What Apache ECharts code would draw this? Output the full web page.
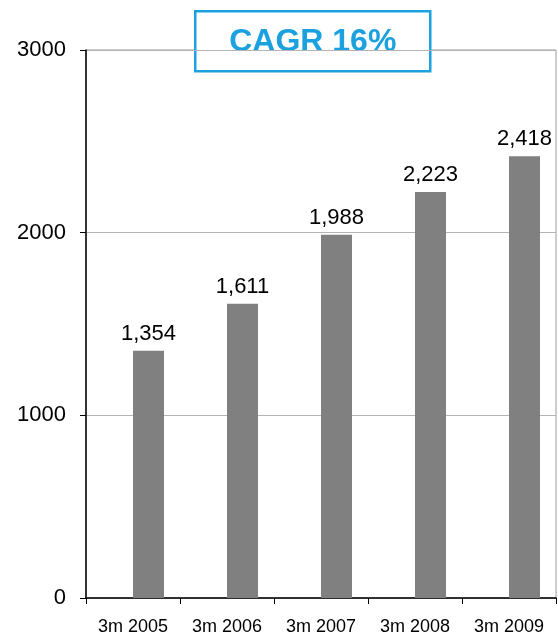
<!DOCTYPE html>
<html>
<head>
<meta charset="utf-8">
<script src="https://cdn.jsdelivr.net/npm/echarts@6/dist/echarts.min.js"></script>
<style>
  html, body { margin: 0; padding: 0; background: #fff; }
  #chart { width: 558px; height: 638px; }
</style>
</head>
<body>
<div id="chart"></div>
<script>
// Quarterly volume, first three months of each year
const categories = ['3m 2005', '3m 2006', '3m 2007', '3m 2008', '3m 2009'];
const values = [1354, 1611, 1988, 2223, 2418];
const yTicks = { min: 0, max: 3000, interval: 1000 };
const headline = 'CAGR 16%';

const fmt = v => v.toLocaleString('en-US');

const chart = echarts.init(document.getElementById('chart'), null, { renderer: 'canvas' });

chart.setOption({
  animation: false,
  textStyle: { fontFamily: 'Liberation Sans, Arial, sans-serif' },
  grid: {
    left: 86, right: 2, top: 50, bottom: 40,
    show: true, borderColor: '#9a9a9a', borderWidth: 1, backgroundColor: 'transparent'
  },
  xAxis: {
    type: 'category',
    data: categories,
    axisLine: { lineStyle: { color: '#000', width: 1.5 } },
    axisTick: { show: true, length: 6, lineStyle: { color: '#000' } },
    axisLabel: { color: '#000', fontSize: 18, margin: 20 }
  },
  yAxis: {
    type: 'value',
    min: yTicks.min, max: yTicks.max, interval: yTicks.interval,
    axisLine: { show: true, lineStyle: { color: '#000', width: 1.5 } },
    axisTick: { show: true, length: 6, lineStyle: { color: '#000' } },
    axisLabel: { color: '#000', fontSize: 22, margin: 20, formatter: v => String(v) },
    splitLine: { lineStyle: { color: '#b4b4b4', width: 1 } }
  },
  series: [
    {
      // empty slot that keeps each bar right of the category centre
      type: 'bar',
      data: categories.map(() => '-'),
      barWidth: 31,
      barGap: '0%',
      silent: true
    },
    {
      type: 'bar',
      data: values,
      barWidth: 31,
      barGap: '0%',
      itemStyle: { color: '#808080' },
      label: {
        show: true,
        position: 'top',
        distance: 6,
        color: '#000',
        fontSize: 22,
        formatter: p => fmt(p.value)
      }
    }
  ],
  graphic: [
    {
      type: 'group',
      left: 194, top: 10,
      children: [
        {
          type: 'rect',
          shape: { x: 0, y: 0, width: 235, height: 60 },
          style: { fill: '#fff', stroke: '#1ba1df', lineWidth: 2.5 }
        },
        {
          type: 'text',
          style: {
            x: 117.5, y: 31,
            text: headline,
            align: 'center', verticalAlign: 'middle',
            fill: '#1ba1df',
            font: 'bold 32px Liberation Sans, Arial, sans-serif'
          }
        }
      ]
    }
  ]
});
</script>
</body>
</html>
